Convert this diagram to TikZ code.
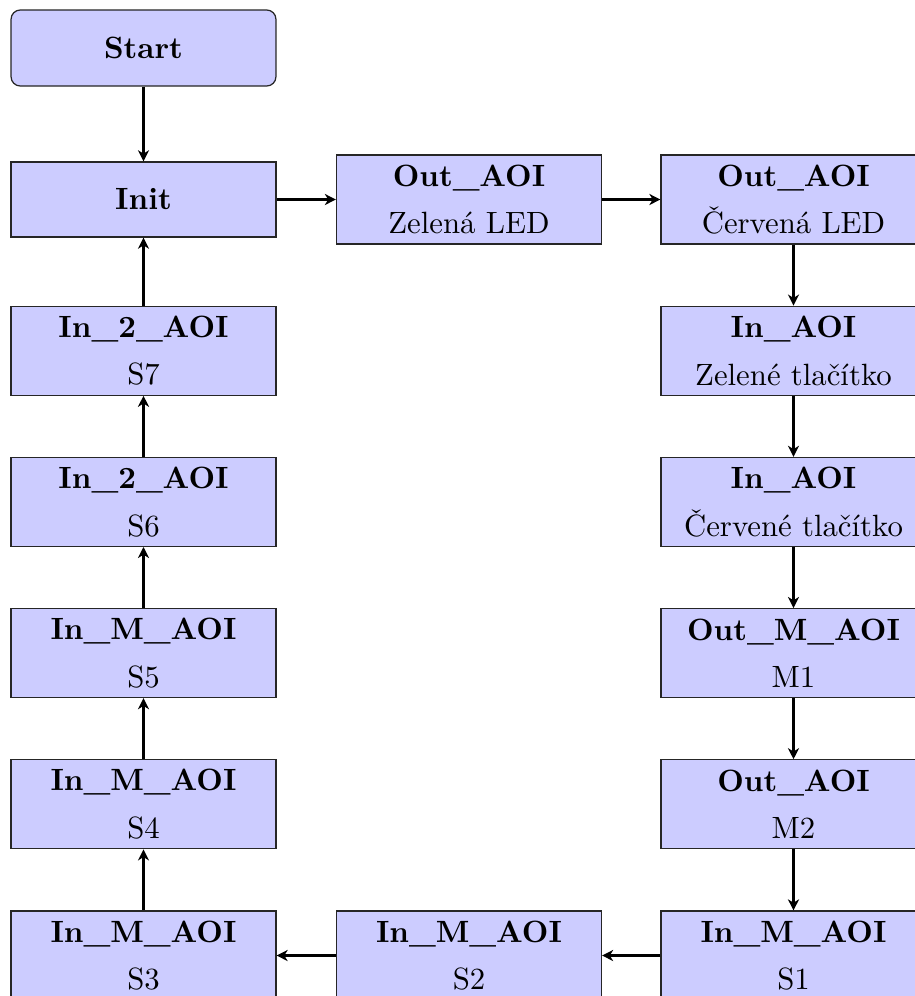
\documentclass[tikz,border=0pt]{standalone}
\usetikzlibrary{arrows.meta}
\begin{document}
\begin{tikzpicture}[x=0.325pt,y=-0.325pt,
  box/.style={draw=black!85, fill=blue!20, minimum width=86.1pt, minimum height=28.9pt,
    inner sep=0pt, align=center, font=\fontsize{10}{15.5}\selectfont},
  startbox/.style={box, rounded corners=3pt, minimum height=24.7pt},
  onebox/.style={box, minimum height=24.4pt},
  conn/.style={line width=0.7pt, -{Stealth[length=3.6pt,width=3.6pt,inset=1.1pt]}}]
\clip (0,0) rectangle (915,996);
\node[startbox] (start) at (143.5,48) {\textbf{Start}};
\node[onebox] (init) at (143.5,199.5) {\textbf{Init}};
\node[box] (zled) at (469,199.5) {\textbf{Out\_AOI}\\Zelená LED};
\node[box] (cled) at (793.5,199.5) {\textbf{Out\_AOI}\\Červená LED};
\node[box] (ztl) at (793.5,350.7) {\textbf{In\_AOI}\\Zelené tlačítko};
\node[box] (ctl) at (793.5,501.9) {\textbf{In\_AOI}\\Červené tlačítko};
\node[box] (m1) at (793.5,653.1) {\textbf{Out\_M\_AOI}\\M1};
\node[box] (m2) at (793.5,804.3) {\textbf{Out\_AOI}\\M2};
\node[box] (s1) at (793.5,955.5) {\textbf{In\_M\_AOI}\\S1};
\node[box] (s2) at (469,955.5) {\textbf{In\_M\_AOI}\\S2};
\node[box] (s3) at (143.5,955.5) {\textbf{In\_M\_AOI}\\S3};
\node[box] (s4) at (143.5,804.3) {\textbf{In\_M\_AOI}\\S4};
\node[box] (s5) at (143.5,653.1) {\textbf{In\_M\_AOI}\\S5};
\node[box] (s6) at (143.5,501.9) {\textbf{In\_2\_AOI}\\S6};
\node[box] (s7) at (143.5,350.7) {\textbf{In\_2\_AOI}\\S7};
\draw[conn] (start) -- (init);
\draw[conn] (init) -- (zled);
\draw[conn] (zled) -- (cled);
\draw[conn] (cled) -- (ztl);
\draw[conn] (ztl) -- (ctl);
\draw[conn] (ctl) -- (m1);
\draw[conn] (m1) -- (m2);
\draw[conn] (m2) -- (s1);
\draw[conn] (s1) -- (s2);
\draw[conn] (s2) -- (s3);
\draw[conn] (s3) -- (s4);
\draw[conn] (s4) -- (s5);
\draw[conn] (s5) -- (s6);
\draw[conn] (s6) -- (s7);
\draw[conn] (s7) -- (init);
\end{tikzpicture}
\end{document}
